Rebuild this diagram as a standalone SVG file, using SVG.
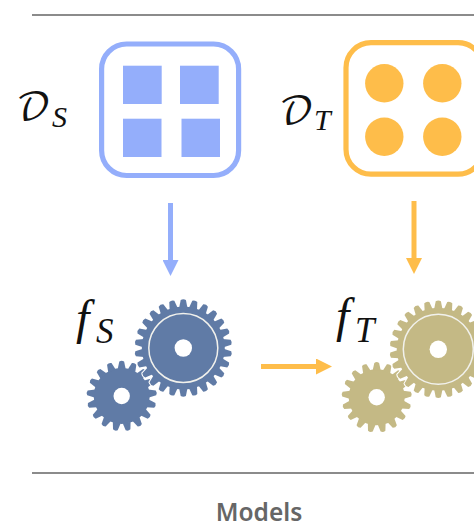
<svg xmlns="http://www.w3.org/2000/svg" width="474" height="523" viewBox="0 0 474 523">
<style>
.rule{stroke:#666;stroke-width:1.4;fill:none}
.blue{fill:#94aefb}.orange{fill:#febd4a}
.box{fill:#fff;stroke-width:5.2}
.sym{font-family:"DejaVu Math TeX Gyre","Liberation Serif",serif;font-size:38px;fill:#111}
.sub{font-family:"Liberation Serif",serif;font-style:italic;font-size:30px;fill:#111}
.subf{font-family:"Liberation Serif",serif;font-style:italic;font-size:35px;fill:#111}
.fn{font-family:"Liberation Serif",serif;font-style:italic;font-size:48px;fill:#111}
.title{font-family:"Noto Sans",sans-serif;font-weight:600;font-size:24.5px;fill:#666;text-anchor:middle}
.hub{fill:#fff}
.ring{fill:none;stroke:#f1f1ec;stroke-width:1.5}
.halo{fill:#fff;stroke:#fff;stroke-width:2}
.gs{fill:#607ba6}.gt{fill:#c4b985}
</style>
<defs>
<marker id="hb" markerUnits="userSpaceOnUse" markerWidth="16" markerHeight="16" refX="0" refY="8" orient="auto"><path d="M0 0L16 8L0 16Z" fill="#94aefb"/></marker>
<marker id="ho" markerUnits="userSpaceOnUse" markerWidth="16" markerHeight="16" refX="0" refY="8" orient="auto"><path d="M0 0L16 8L0 16Z" fill="#febd4a"/></marker>
<path id="tb" d="M-4.2 -40L-2.6 -48Q0 -49.6 2.6 -48L4.2 -40Z"/>
<path id="ts" d="M-4 -27L-2.4 -34.4Q0 -36 2.4 -34.4L4 -27Z"/>
<g id="big">
<circle r="41.5"/>
<use href="#tb"/><use href="#tb" transform="rotate(13.85)"/><use href="#tb" transform="rotate(27.69)"/><use href="#tb" transform="rotate(41.54)"/><use href="#tb" transform="rotate(55.38)"/><use href="#tb" transform="rotate(69.23)"/><use href="#tb" transform="rotate(83.08)"/><use href="#tb" transform="rotate(96.92)"/><use href="#tb" transform="rotate(110.77)"/><use href="#tb" transform="rotate(124.62)"/><use href="#tb" transform="rotate(138.46)"/><use href="#tb" transform="rotate(152.31)"/><use href="#tb" transform="rotate(166.15)"/><use href="#tb" transform="rotate(180)"/><use href="#tb" transform="rotate(193.85)"/><use href="#tb" transform="rotate(207.69)"/><use href="#tb" transform="rotate(221.54)"/><use href="#tb" transform="rotate(235.38)"/><use href="#tb" transform="rotate(249.23)"/><use href="#tb" transform="rotate(263.08)"/><use href="#tb" transform="rotate(276.92)"/><use href="#tb" transform="rotate(290.77)"/><use href="#tb" transform="rotate(304.62)"/><use href="#tb" transform="rotate(318.46)"/><use href="#tb" transform="rotate(332.31)"/><use href="#tb" transform="rotate(346.15)"/>
</g>
<g id="small">
<circle r="28"/>
<use href="#ts"/><use href="#ts" transform="rotate(21.18)"/><use href="#ts" transform="rotate(42.35)"/><use href="#ts" transform="rotate(63.53)"/><use href="#ts" transform="rotate(84.71)"/><use href="#ts" transform="rotate(105.88)"/><use href="#ts" transform="rotate(127.06)"/><use href="#ts" transform="rotate(148.24)"/><use href="#ts" transform="rotate(169.41)"/><use href="#ts" transform="rotate(190.59)"/><use href="#ts" transform="rotate(211.76)"/><use href="#ts" transform="rotate(232.94)"/><use href="#ts" transform="rotate(254.12)"/><use href="#ts" transform="rotate(275.29)"/><use href="#ts" transform="rotate(296.47)"/><use href="#ts" transform="rotate(317.65)"/><use href="#ts" transform="rotate(338.82)"/>
</g>
</defs>
<path class="rule" d="M32 15H474M32 473H474"/>
<g id="connectors" fill="none" stroke-width="5">
<path d="M170.5 203V260" stroke="#94aefb" marker-end="url(#hb)"/>
<path d="M414 201V258" stroke="#febd4a" marker-end="url(#ho)"/>
<path d="M261 366.5H316" stroke="#febd4a" marker-end="url(#ho)"/>
</g>
<g id="data-s">
<rect class="box" x="101.6" y="44" width="137" height="131.5" rx="25" stroke="#94aefb"/>
<rect class="blue" x="123" y="65.7" width="38.7" height="38.3"/>
<rect class="blue" x="180" y="65.7" width="38.7" height="38.3"/>
<rect class="blue" x="123" y="118.7" width="38.5" height="38.3"/>
<rect class="blue" x="181.5" y="118.7" width="38.5" height="38.3"/>
<text class="sym" x="16" y="120">𝒟<tspan class="sub" x="52" y="127">S</tspan></text>
</g>
<g id="data-t">
<rect class="box" x="346" y="42.7" width="137" height="131.5" rx="25" stroke="#febd4a"/>
<circle class="orange" cx="384.3" cy="83.3" r="19.2"/><circle class="orange" cx="442.3" cy="83.3" r="19.2"/>
<circle class="orange" cx="384.3" cy="136.7" r="19.2"/><circle class="orange" cx="442.3" cy="136.7" r="19.2"/>
<text class="sym" x="279" y="124">𝒟<tspan class="sub" x="314" y="130">T</tspan></text>
</g>
<g id="model-s">
<text class="fn" x="76" y="334">f<tspan class="subf" x="96" y="343">S</tspan></text>
<use href="#small" class="gs" transform="translate(121.7 396)"/>
<use href="#big" class="halo" transform="translate(183.3 348)"/>
<use href="#big" class="gs" transform="translate(183.3 348)"/>
<circle class="ring" cx="183.3" cy="348" r="34.5"/>
<circle class="hub" cx="183.3" cy="348" r="8.7"/><circle class="hub" cx="121.7" cy="396" r="8.2"/>
</g>
<g id="model-t">
<text class="fn" x="336" y="332">f<tspan class="subf" x="355" y="342">T</tspan></text>
<use href="#small" class="gt" transform="translate(376.7 397.3)"/>
<use href="#big" class="halo" transform="translate(438.3 349.3)"/>
<use href="#big" class="gt" transform="translate(438.3 349.3)"/>
<circle class="ring" cx="438.3" cy="349.3" r="35"/>
<circle class="hub" cx="438.3" cy="349.3" r="8.7"/><circle class="hub" cx="376.7" cy="397.3" r="8.2"/>
</g>
<text class="title" x="259" y="521">Models</text>
</svg>
